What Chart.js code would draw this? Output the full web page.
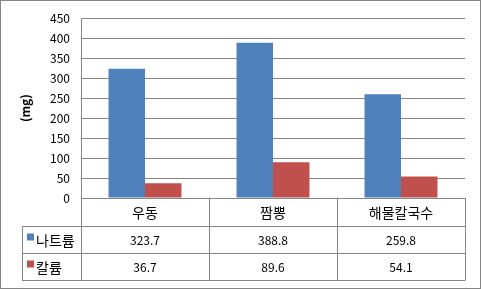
<!DOCTYPE html>
<html>
<head>
<meta charset="utf-8">
<script src="https://cdn.jsdelivr.net/npm/chart.js@4/dist/chart.umd.min.js"></script>
<style>
  html, body { margin: 0; padding: 0; background: #fff; }
  #wrap { width: 481px; height: 289px; }
</style>
</head>
<body>
<div id="wrap"><canvas id="chart" width="481" height="289"></canvas></div>
<script>
const categories = ['우동', '짬뽕', '해물칼국수'];
const sodium = [323.7, 388.8, 259.8];
const potassium = [36.7, 89.6, 54.1];
const seriesNames = ['나트륨', '칼륨'];
const yTicks = [0, 50, 100, 150, 200, 250, 300, 350, 400, 450];

const BLUE = '#4F81BD';
const RED = '#C0504D';
const LINE = '#868686';
const FONT = "'Noto Sans CJK KR', 'Noto Sans', sans-serif";

// data table under the plot, excel style
const dataTable = {
  id: 'dataTable',
  afterDraw(chart) {
    const ctx = chart.ctx;
    const area = chart.chartArea;
    const colW = (area.right - area.left) / categories.length;
    const rows = [area.bottom, area.bottom + 28, area.bottom + 55, area.bottom + 82];
    const legendLeft = 22;

    ctx.save();
    ctx.strokeStyle = LINE;
    ctx.lineWidth = 1;
    ctx.beginPath();
    // horizontal lines
    for (let i = 1; i < rows.length; i++) {
      ctx.moveTo(legendLeft, Math.round(rows[i]) + 0.5);
      ctx.lineTo(area.right, Math.round(rows[i]) + 0.5);
    }
    // vertical lines
    for (let c = 0; c <= categories.length; c++) {
      const x = Math.round(area.left + c * colW) + 0.5;
      ctx.moveTo(x, rows[0]);
      ctx.lineTo(x, rows[3] + 0.5);
    }
    ctx.moveTo(legendLeft + 0.5, rows[1]);
    ctx.lineTo(legendLeft + 0.5, rows[3] + 0.5);
    ctx.stroke();

    ctx.fillStyle = '#000';
    ctx.textAlign = 'center';
    ctx.textBaseline = 'middle';
    ctx.font = '14px ' + FONT;
    categories.forEach((c, i) => {
      ctx.fillText(c, area.left + (i + 0.5) * colW, (rows[0] + rows[1]) / 2 + 1);
    });

    const series = [sodium, potassium];
    const colors = [BLUE, RED];
    ctx.font = '12px ' + FONT;
    series.forEach((vals, r) => {
      const cy = (rows[r + 1] + rows[r + 2]) / 2 + 1;
      vals.forEach((v, i) => {
        ctx.fillStyle = '#000';
        ctx.textAlign = 'center';
        ctx.fillText(v.toFixed(1), area.left + (i + 0.5) * colW, cy);
      });
      ctx.fillStyle = colors[r];
      ctx.fillRect(27, cy - 7, 7, 7);
      ctx.fillStyle = '#000';
      ctx.textAlign = 'left';
      ctx.font = '14px ' + FONT;
      ctx.fillText(seriesNames[r], 36, cy);
      ctx.font = '12px ' + FONT;
    });

    // outer frame
    ctx.strokeStyle = LINE;
    ctx.strokeRect(0.5, 0.5, chart.width - 1, chart.height - 1);
    ctx.restore();
  }
};

new Chart(document.getElementById('chart').getContext('2d'), {
  type: 'bar',
  data: {
    labels: categories,
    datasets: [
      { label: seriesNames[0], data: sodium, backgroundColor: BLUE },
      { label: seriesNames[1], data: potassium, backgroundColor: RED }
    ]
  },
  options: {
    responsive: false,
    animation: false,
    devicePixelRatio: 1,
    layout: { padding: { top: 14, right: 16, bottom: 91, left: 0 } },
    categoryPercentage: 0.57,
    barPercentage: 1,
    plugins: {
      legend: { display: false },
      tooltip: { enabled: false }
    },
    scales: {
      x: { display: false },
      y: {
        min: 0,
        max: 450,
        afterBuildTicks: (s) => { s.ticks = yTicks.map(v => ({ value: v })); },
        afterFit: (s) => { s.width = 81; },
        border: { display: true, color: LINE },
        grid: { color: LINE, drawTicks: false },
        ticks: { color: '#000', padding: 11, font: { family: FONT, size: 12 } },
        title: {
          display: true,
          text: '(mg)',
          color: '#000',
          font: { family: FONT, size: 12, weight: 'bold' },
          padding: { top: 18 }
        }
      }
    }
  },
  plugins: [dataTable]
});
</script>
</body>
</html>
